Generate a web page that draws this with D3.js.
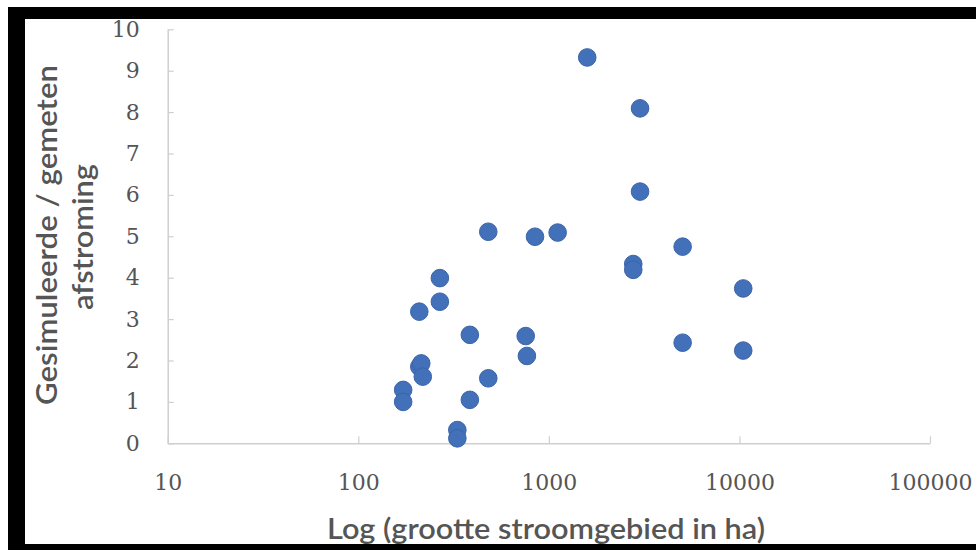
<!DOCTYPE html>
<html>
<head>
<meta charset="utf-8">
<script src="https://cdn.jsdelivr.net/npm/d3@7"></script>
<style>
  html, body { margin: 0; padding: 0; background: #fff; }
  svg { display: block; }
</style>
</head>
<body>
<svg id="chart" width="976" height="550"></svg>
<script>
// Catchment size (ha) and simulated / measured runoff ratio per catchment
const areaHa = [1590, 3010, 3010, 481, 846, 1112, 5035, 2773, 2773, 10470,
                268, 268, 209, 385, 756, 767, 5035, 10470, 209, 214,
                218, 481, 172, 172, 385, 331, 331];
const runoffRatio = [9.32, 8.09, 6.08, 5.11, 4.99, 5.09, 4.75, 4.33, 4.19, 3.74,
                     3.99, 3.42, 3.18, 2.62, 2.59, 2.11, 2.43, 2.24, 1.85, 1.93,
                     1.61, 1.57, 1.29, 1.00, 1.05, 0.32, 0.12];

const xTicks = [10, 100, 1000, 10000, 100000];
const yTicks = [0, 1, 2, 3, 4, 5, 6, 7, 8, 9, 10];

const xTitle = "Log (grootte stroomgebied in ha)";
const yTitleLines = ["Gesimuleerde / gemeten", "afstroming"];

const svg = d3.select("#chart");

// black frame around the chart area
svg.append("rect").attr("x", 8).attr("y", 7).attr("width", 968).attr("height", 543).attr("fill", "#000");
svg.append("rect").attr("x", 25).attr("y", 19).attr("width", 951).attr("height", 525).attr("fill", "#fff");

const x = d3.scaleLog().domain([10, 100000]).range([167.7, 930]);
const y = d3.scaleLinear().domain([0, 10]).range([443.3, 29.3]);

const axisColor = "#cfcfcf";
const labelColor = "#555555";
const tickFont = "'DejaVu Serif', 'Liberation Serif', serif";

const xAxis = svg.append("g")
  .attr("transform", `translate(0,${y(0)})`)
  .call(d3.axisBottom(x).tickValues(xTicks).tickFormat(d3.format("d"))
        .tickSizeInner(-7).tickSizeOuter(0).tickPadding(31));

const yAxis = svg.append("g")
  .attr("transform", `translate(${x(10)},0)`)
  .call(d3.axisLeft(y).tickValues(yTicks).tickFormat(d3.format("d"))
        .tickSizeInner(-6).tickSizeOuter(0).tickPadding(28));

[xAxis, yAxis].forEach(g => {
  g.select(".domain").attr("stroke", axisColor).attr("stroke-width", 1.5);
  g.selectAll(".tick line").attr("stroke", axisColor).attr("stroke-width", 1.2);
  g.selectAll(".tick text")
    .attr("fill", labelColor)
    .style("font-family", tickFont)
    .style("font-size", "22px");
});

// scatter points
svg.append("g")
  .selectAll("circle")
  .data(areaHa.map((a, i) => ({ a, r: runoffRatio[i] })))
  .join("circle")
  .attr("cx", d => x(d.a))
  .attr("cy", d => y(d.r))
  .attr("r", 8.8)
  .attr("fill", "#4371b9")
  .attr("stroke", "#3a63a8")
  .attr("stroke-width", 1);

// axis titles
const titleFont = "Lato, 'Open Sans', sans-serif";

svg.append("text")
  .attr("x", 546).attr("y", 539)
  .attr("text-anchor", "middle")
  .attr("fill", labelColor)
  .style("font-family", titleFont)
  .style("font-size", "28px")
  .style("font-weight", 600)
  .attr("textLength", 438)
  .attr("lengthAdjust", "spacingAndGlyphs")
  .text(xTitle);

const yTitlePos = [{ bx: 57, cy: 235, len: 340 }, { bx: 93, cy: 237, len: 146 }];
yTitleLines.forEach((line, i) => {
  svg.append("text")
    .attr("transform", `translate(${yTitlePos[i].bx},${yTitlePos[i].cy}) rotate(-90)`)
    .attr("text-anchor", "middle")
    .attr("fill", labelColor)
    .style("font-family", titleFont)
    .style("font-size", "28px")
    .style("font-weight", 600)
    .attr("textLength", yTitlePos[i].len)
    .attr("lengthAdjust", "spacingAndGlyphs")
    .text(line);
});
</script>
</body>
</html>
